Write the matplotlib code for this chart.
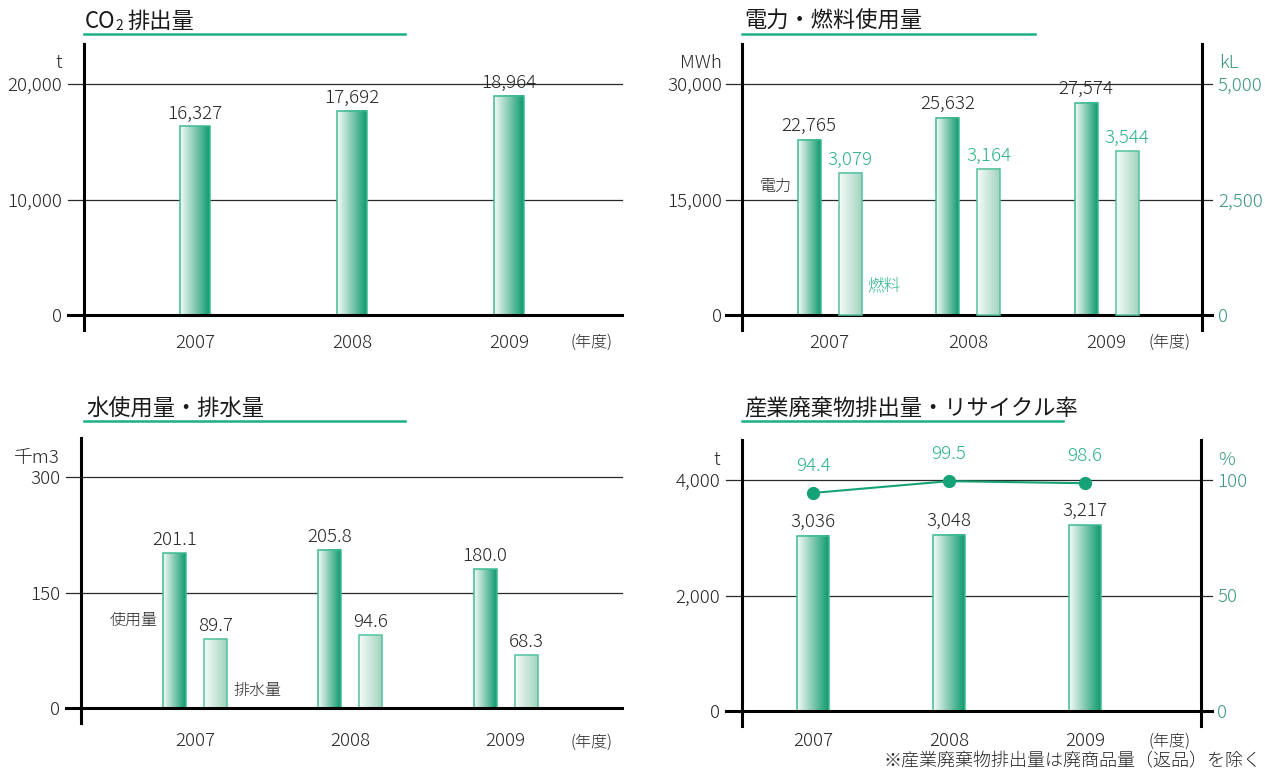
import numpy as np
import matplotlib
matplotlib.use('Agg')
import matplotlib.pyplot as plt
from matplotlib.lines import Line2D
from matplotlib.colors import to_rgb

plt.rcParams['font.family'] = ['Noto Sans CJK JP', 'DejaVu Sans']
plt.rcParams['font.weight'] = 'light'

# data
years = ['2007', '2008', '2009']
co2 = [16327, 17692, 18964]
co2_ticks = [0, 10000, 20000]
power = [22765, 25632, 27574]
power_ticks = [0, 15000, 30000]
fuel = [3079, 3164, 3544]
fuel_ticks = [0, 2500, 5000]
water_use = [201.1, 205.8, 180.0]
water_drain = [89.7, 94.6, 68.3]
water_ticks = [0, 150, 300]
waste = [3036, 3048, 3217]
waste_ticks = [0, 2000, 4000]
recycle = [94.4, 99.5, 98.6]
recycle_ticks = [0, 50, 100]

W, H = 1265, 771
P = 0.72  # points per pixel at dpi 100
FS = 13.5

TXT = '#262626'
GREEN_TXT = '#2db38a'
GREEN_AX = '#3c9a78'
LINE_GREEN = '#15a277'
UNDER = '#1fae86'
DARK = ('#f4faf7', '#0e9a6d', '#3dba92')
LIGHT = ('#f6fbf9', '#a2d4be', '#52c39e')

fig = plt.figure(figsize=(W / 100, H / 100), dpi=100)


def ftext(x, y, s, **kw):
    kw.setdefault('color', TXT)
    return fig.text(x / W, 1 - y / H, s, **kw)


def make_axes(x0, x1, y0, y1):
    ax = fig.add_axes([x0 / W, 1 - y1 / H, (x1 - x0) / W, (y1 - y0) / H])
    ax.patch.set_visible(False)
    for s in ['top', 'right', 'bottom']:
        ax.spines[s].set_visible(False)
    ax.spines['left'].set_linewidth(2.2)
    ax.set_xticks([])
    return ax


def scale_y(ax, top_px, bot_px, zero_px, max_px, vmax):
    s = vmax / (zero_px - max_px)
    ax.set_ylim(-(bot_px - zero_px) * s, vmax + (max_px - top_px) * s)


def scale_x(ax, left_px, right_px, first_px, step_px, n=3):
    ax.set_xlim(-(first_px - left_px) / step_px,
                (n - 1) + (right_px - (first_px + (n - 1) * step_px)) / step_px)


def grid(ax, ticks, ax_w, left_ext, right_ext=0):
    for v in ticks:
        if v == 0:
            ax.axhline(v, xmin=-left_ext / ax_w, xmax=1 + right_ext / ax_w,
                       color='black', lw=2.2, zorder=5, clip_on=False)
        else:
            ax.axhline(v, xmin=-left_ext / ax_w, xmax=1 + right_ext / ax_w,
                       color='#2a2a2a', lw=0.9, zorder=1, clip_on=False)


def gbar(ax, x, h, w, style):
    c0, c1, edge = style
    a, b = np.array(to_rgb(c0)), np.array(to_rgb(c1))
    t = np.linspace(0, 1, 64)[:, None]
    grad = (a + (b - a) * t)[None, :, :]
    bars = ax.bar(x, h, w, facecolor='none', edgecolor=edge, lw=1.1, zorder=4)
    for r in bars:
        ax.imshow(grad, extent=[r.get_x(), r.get_x() + r.get_width(), 0, r.get_height()],
                  aspect='auto', interpolation='bilinear', zorder=3)
    return bars


def vlabels(ax, x, vals, fmt, color=TXT, off=13):
    for xi, v in zip(x, vals):
        ax.annotate(fmt(v), (xi, v), xytext=(0, off * P), textcoords='offset points',
                    ha='center', va='center', fontsize=FS, color=color, zorder=7)


def ylabels(ax, ticks, pad_px, color=TXT, side='left'):
    ax.set_yticks(ticks)
    ax.set_yticklabels([f'{t:,}' for t in ticks])
    ax.tick_params(axis='y', length=0, pad=pad_px * P, labelsize=FS, labelcolor=color)
    if side == 'right':
        ax.yaxis.tick_right()


def year_labels(ax, x, off):
    for xi, y in zip(x, years):
        ax.annotate(y, (xi, 0), xytext=(0, -off * P), textcoords='offset points',
                    ha='center', va='center', fontsize=FS, color=TXT, annotation_clip=False)


def title(x0, x1, y_txt, y_line, s):
    ftext(x0 + 2, y_txt, s, fontsize=16, va='center', color='#1a1a1a', fontweight='normal')
    fig.add_artist(Line2D([x0 / W, x1 / W], [1 - y_line / H] * 2, color=UNDER, lw=1.8))


comma = lambda v: f'{v:,}'
dec1 = lambda v: f'{v:.1f}'
xs = np.arange(len(years))

# ---- CO2 ----
ax1 = make_axes(84, 622, 44, 330)
scale_y(ax1, 44, 330, 315, 84, co2_ticks[-1])
scale_x(ax1, 84, 622, 195, 157)
grid(ax1, co2_ticks, 622 - 84, 16)
ylabels(ax1, co2_ticks, 22)
gbar(ax1, xs, co2, 30 / 157, DARK)
scale_y(ax1, 44, 330, 315, 84, co2_ticks[-1])
scale_x(ax1, 84, 622, 195, 157)
vlabels(ax1, xs, co2, comma)
year_labels(ax1, xs, 28)
ftext(62, 63, 't', fontsize=FS, ha='right', va='center')
ftext(592, 342, '(年度)', fontsize=11.5, ha='center', va='center')
ftext(85, 21, 'CO', fontsize=16, va='center', color='#1a1a1a', fontweight='normal')
ftext(115, 26, '2', fontsize=10, va='center', color='#1a1a1a', fontweight='normal')
ftext(127, 21, '排出量', fontsize=16, va='center', color='#1a1a1a', fontweight='normal')
fig.add_artist(Line2D([84 / W, 405 / W], [1 - 34 / H] * 2, color=UNDER, lw=1.8))

# ---- power / fuel ----
ax2 = make_axes(742, 1202, 44, 330)
scale_y(ax2, 44, 330, 315, 84, power_ticks[-1])
scale_x(ax2, 742, 1202, 829.5, 138.5)
grid(ax2, power_ticks, 1202 - 742, 16, 10)
ylabels(ax2, power_ticks, 20)
off2 = 20.5 / 138.5
w2 = 23 / 138.5
gbar(ax2, xs - off2, power, w2, DARK)
scale_y(ax2, 44, 330, 315, 84, power_ticks[-1])
scale_x(ax2, 742, 1202, 829.5, 138.5)
vlabels(ax2, xs - off2, power, comma, off=14)
year_labels(ax2, xs, 28)

tw2 = ax2.twinx()
for s in ['top', 'left', 'bottom']:
    tw2.spines[s].set_visible(False)
tw2.spines['right'].set_linewidth(2.2)
ylabels(tw2, fuel_ticks, 16, GREEN_AX, 'right')
gbar(tw2, xs + off2, fuel, w2, LIGHT)
scale_y(tw2, 44, 330, 315, 84, fuel_ticks[-1])
tw2.set_xlim(ax2.get_xlim())
vlabels(tw2, xs + off2, fuel, comma, GREEN_TXT)
ftext(722, 63, 'MWh', fontsize=FS, ha='right', va='center')
ftext(1219, 63, 'kL', fontsize=FS, ha='left', va='center', color=GREEN_AX)
ftext(776, 186, '電力', fontsize=11.5, ha='center', va='center')
ftext(884, 286, '燃料', fontsize=12, ha='center', va='center', color=GREEN_TXT)
ftext(1170, 342, '(年度)', fontsize=11.5, ha='center', va='center')
title(742, 1035, 21, 34, '電力・燃料使用量')

# ---- water ----
ax3 = make_axes(81, 622, 438, 723)
scale_y(ax3, 438, 723, 708, 477, water_ticks[-1])
scale_x(ax3, 81, 622, 195, 155.25)
grid(ax3, water_ticks, 622 - 81, 15)
ylabels(ax3, water_ticks, 21)
off3 = 20.5 / 155.25
w3 = 23 / 155.25
gbar(ax3, xs - off3, water_use, w3, DARK)
gbar(ax3, xs + off3, water_drain, w3, LIGHT)
scale_y(ax3, 438, 723, 708, 477, water_ticks[-1])
scale_x(ax3, 81, 622, 195, 155.25)
vlabels(ax3, xs - off3, water_use, dec1)
vlabels(ax3, xs + off3, water_drain, dec1)
year_labels(ax3, xs, 33)
ftext(60, 458, '千m3', fontsize=FS, ha='right', va='center')
ftext(134, 620, '使用量', fontsize=11.5, ha='center', va='center')
ftext(257, 690, '排水量', fontsize=11.5, ha='center', va='center')
ftext(592, 742, '(年度)', fontsize=11.5, ha='center', va='center')
title(84, 405, 409, 421, '水使用量・排水量')

# ---- waste / recycle ----
ax4 = make_axes(742, 1201, 440, 726)
scale_y(ax4, 440, 726, 711, 480, waste_ticks[-1])
scale_x(ax4, 742, 1201, 813, 136)
grid(ax4, waste_ticks, 1201 - 742, 16, 11)
ylabels(ax4, waste_ticks, 22)
gbar(ax4, xs, waste, 32 / 136, DARK)
scale_y(ax4, 440, 726, 711, 480, waste_ticks[-1])
scale_x(ax4, 742, 1201, 813, 136)
vlabels(ax4, xs, waste, comma, off=14)
year_labels(ax4, xs, 30)

tw4 = ax4.twinx()
for s in ['top', 'left', 'bottom']:
    tw4.spines[s].set_visible(False)
tw4.spines['right'].set_linewidth(2.2)
ylabels(tw4, recycle_ticks, 16, GREEN_AX, 'right')
tw4.plot(xs, recycle, color=LINE_GREEN, lw=1.5, marker='o', ms=8.5, zorder=6, clip_on=False)
scale_y(tw4, 440, 726, 711, 480, recycle_ticks[-1])
tw4.set_xlim(ax4.get_xlim())
vlabels(tw4, xs, recycle, dec1, GREEN_TXT, off=27)
ftext(720, 460, 't', fontsize=FS, ha='right', va='center')
ftext(1218, 460, '%', fontsize=FS, ha='left', va='center', color=GREEN_AX)
ftext(1169, 741, '(年度)', fontsize=11.5, ha='center', va='center')
ftext(1262, 761, '※産業廃棄物排出量は廃商品量（返品）を除く', fontsize=13, ha='right', va='center')
title(742, 1063, 409, 421, '産業廃棄物排出量・リサイクル率')

fig.savefig('out.png', dpi=100)
